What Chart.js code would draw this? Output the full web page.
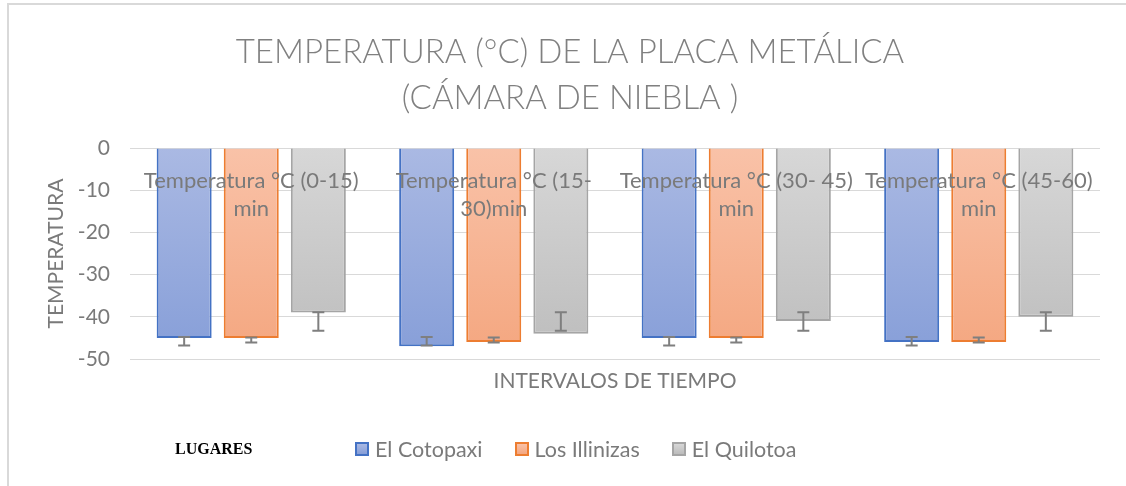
<!DOCTYPE html>
<html>
<head>
<meta charset="utf-8">
<script src="https://cdn.jsdelivr.net/npm/chart.js@4.4.1/dist/chart.umd.min.js"></script>
<style>
  html, body { margin: 0; padding: 0; background: #fff; }
  #wrap { position: relative; width: 1126px; height: 486px; overflow: hidden; }
  #chart { position: absolute; left: 0; top: 0; }
  #frame { position: absolute; left: 7px; top: 3px; right: -5px; bottom: -5px;
           border-top: 2px solid #d9d9d9; border-left: 2px solid #d9d9d9; pointer-events: none; }
  #lugares { position: absolute; left: 175px; top: 437px; font: bold 16px "Liberation Serif", serif; color: #000; line-height: 24px; }
  #legend { position: absolute; left: 355px; top: 435px; display: flex; gap: 32px; font: 21.5px Lato, sans-serif; color: #7a7a7a; }
  .item { display: flex; align-items: center; gap: 6px; line-height: 28px; }
  .box { width: 10px; height: 10px; border: 2px solid; }
</style>
</head>
<body>
<div id="wrap">
  <canvas id="chart" width="1126" height="486"></canvas>
  <div id="lugares">LUGARES</div>
  <div id="legend"></div>
  <div id="frame"></div>
</div>
<script>
const titleLines = ['TEMPERATURA (°C) DE LA PLACA METÁLICA', '(CÁMARA DE NIEBLA )'];
const categories = [
  ['Temperatura °C (0-15)', 'min'],
  ['Temperatura °C (15-', '30)min'],
  ['Temperatura °C (30- 45)', 'min'],
  ['Temperatura °C (45-60)', 'min']
];
const seriesNames = ['El Cotopaxi', 'Los Illinizas', 'El Quilotoa'];

const cotopaxi = [-45, -47, -45, -46];
const illinizas = [-45, -46, -45, -46];
const quilotoa = [-39, -44, -41, -40];

// error bar ends (same whiskers in every interval)
const cotopaxiErrTop = [-44.8, -44.8, -44.8, -44.8];
const cotopaxiErrBottom = [-46.8, -46.8, -46.8, -46.8];
const illinizasErrTop = [-44.9, -44.9, -44.9, -44.9];
const illinizasErrBottom = [-46.1, -46.1, -46.1, -46.1];
const quilotoaErrTop = [-38.9, -38.9, -38.9, -38.9];
const quilotoaErrBottom = [-43.3, -43.3, -43.3, -43.3];

const yTicks = { min: -50, max: 0, step: 10 };

const gray = '#7a7a7a';
const fills = [
  ['#aab9e3', '#869ed8', '#4472c4'],
  ['#f9c2a8', '#f4a67f', '#ed7d31'],
  ['#d7d7d7', '#bcbcbc', '#a5a5a5']
];

function barFill(top, bottom) {
  return (c) => {
    const area = c.chart.chartArea;
    if (!area) return bottom;
    const g = c.chart.ctx.createLinearGradient(0, area.top, 0, area.bottom);
    g.addColorStop(0, top);
    g.addColorStop(1, bottom);
    return g;
  };
}

// whiskers + the interval names written inside the plot
const overlay = {
  id: 'overlay',
  afterDatasetsDraw(chart) {
    const ctx = chart.ctx;
    const x = chart.scales.x, y = chart.scales.y;
    ctx.save();
    ctx.strokeStyle = '#7f7f7f';
    ctx.lineWidth = 2;
    chart.data.datasets.forEach((ds, di) => {
      chart.getDatasetMeta(di).data.forEach((bar, i) => {
        const y1 = y.getPixelForValue(ds.errTop[i]);
        const y2 = y.getPixelForValue(ds.errBottom[i]);
        ctx.beginPath();
        ctx.moveTo(bar.x, y1); ctx.lineTo(bar.x, y2);
        ctx.moveTo(bar.x - 6, y1); ctx.lineTo(bar.x + 6, y1);
        ctx.moveTo(bar.x - 6, y2); ctx.lineTo(bar.x + 6, y2);
        ctx.stroke();
      });
    });
    ctx.fillStyle = gray;
    ctx.font = '22px Lato';
    ctx.textAlign = 'center';
    ctx.textBaseline = 'middle';
    categories.forEach((lines, i) => {
      const cx = x.getPixelForValue(i);
      lines.forEach((t, k) => ctx.fillText(t, cx, chart.chartArea.top + 33 + k * 28));
    });
    ctx.restore();
  }
};

const seriesValues = [cotopaxi, illinizas, quilotoa];
const errTops = [cotopaxiErrTop, illinizasErrTop, quilotoaErrTop];
const errBottoms = [cotopaxiErrBottom, illinizasErrBottom, quilotoaErrBottom];

const legend = document.getElementById('legend');
seriesNames.forEach((name, i) => {
  const item = document.createElement('div');
  item.className = 'item';
  const box = document.createElement('span');
  box.className = 'box';
  box.style.borderColor = fills[i][2];
  box.style.background = 'linear-gradient(' + fills[i][0] + ',' + fills[i][1] + ')';
  item.appendChild(box);
  item.appendChild(document.createTextNode(name));
  legend.appendChild(item);
});

Chart.defaults.font.family = 'Lato';
Chart.defaults.color = gray;

new Chart(document.getElementById('chart'), {
  type: 'bar',
  data: {
    labels: categories,
    datasets: seriesNames.map((name, i) => ({
      label: name,
      data: seriesValues[i],
      errTop: errTops[i],
      errBottom: errBottoms[i],
      backgroundColor: barFill(fills[i][0], fills[i][1]),
      borderColor: fills[i][2],
      borderWidth: 2,
      categoryPercentage: 0.83,
      barPercentage: 0.82
    }))
  },
  options: {
    responsive: false,
    animation: false,
    layout: { padding: { left: 40, right: 26, top: 0, bottom: 0 } },
    plugins: {
      legend: { display: false },
      tooltip: { enabled: false },
      title: {
        display: true,
        text: titleLines,
        color: '#808080',
        font: { size: 33, weight: 300, lineHeight: 46 / 33 },
        padding: { top: 29, bottom: 27 }
      }
    },
    scales: {
      x: {
        grid: { display: false },
        border: { display: false },
        ticks: { display: false },
        title: { display: true, text: 'INTERVALOS DE TIEMPO', color: gray, font: { size: 21 }, padding: { top: 0, bottom: 92 } },
        afterFit: (s) => { s.height = 127; }
      },
      y: {
        min: yTicks.min,
        max: yTicks.max,
        ticks: { stepSize: yTicks.step, color: gray, font: { size: 21 }, padding: 20 },
        grid: { color: '#d9d9d9', lineWidth: 1, drawTicks: false },
        border: { display: false },
        title: { display: true, text: 'TEMPERATURA', color: gray, font: { size: 21 }, padding: { top: 4, bottom: 0 } },
        afterFit: (s) => { s.width = 90; }
      }
    }
  },
  plugins: [overlay]
});
</script>
</body>
</html>
